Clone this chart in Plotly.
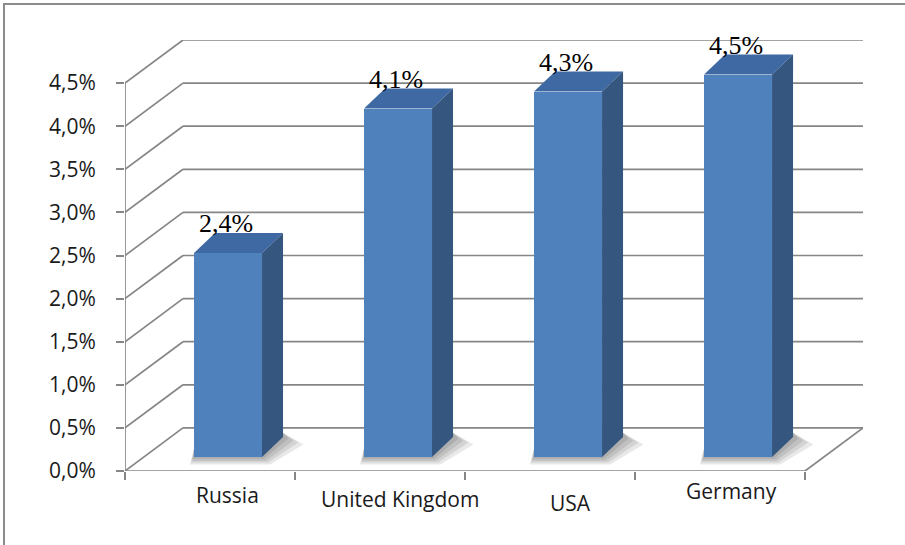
import plotly.graph_objects as go

# ---------------- data ----------------
categories = ["Russia", "United Kingdom", "USA", "Germany"]
values = [2.4, 4.1, 4.3, 4.5]
value_labels = ["2,4%", "4,1%", "4,3%", "4,5%"]
tick_values = [0.0, 0.5, 1.0, 1.5, 2.0, 2.5, 3.0, 3.5, 4.0, 4.5]
tick_labels = ["0,0%", "0,5%", "1,0%", "1,5%", "2,0%", "2,5%", "3,0%", "3,5%", "4,0%", "4,5%"]

# ---------------- geometry / style ----------------
W, H = 905, 545
ML, MR, MT, MB = 125, 42, 40, 74
X_RANGE = [-0.5, 3.841]
Y_RANGE = [0.0, 5.0]
Y2_RANGE = [-0.165, 4.906]
WALL_DX = 0.341
WALL_DY = 0.5
BAR_OFFSET = -0.094
BAR_WIDTH = 0.4
BAR_DX = 0.1235
BAR_DY = 0.235
GRID = "#868686"
FRONT = "#4f81bd"
TOP = "#3f69a3"
SIDE = "#35567f"
label_dx_px = [0, 3, 3, -6]
label_dy_px = [24, 28, 32, 20]

n = len(categories)
xs = list(range(n))
x_left = -0.5
x_right = n - 0.5

fig = go.Figure()

fig.add_trace(go.Bar(
    x=xs, y=values, yaxis="y2",
    offset=BAR_OFFSET, width=BAR_WIDTH,
    marker=dict(color=FRONT, line=dict(width=0)),
    hoverinfo="skip", showlegend=False,
))

shapes = []
line = dict(color=GRID, width=1.7)
# back wall gridlines and side-wall diagonals
for v in tick_values:
    shapes.append(dict(type="line", xref="x", yref="y", layer="below",
                       x0=x_left + WALL_DX, x1=x_right + WALL_DX,
                       y0=v + WALL_DY, y1=v + WALL_DY, line=line))
    shapes.append(dict(type="line", xref="x", yref="y", layer="below",
                       x0=x_left, x1=x_left + WALL_DX,
                       y0=v, y1=v + WALL_DY, line=line))
# front axis line
shapes.append(dict(type="line", xref="x", yref="y", layer="below",
                   x0=x_left, x1=x_left, y0=tick_values[0], y1=tick_values[-1], line=line))
# floor front edge and right edge
shapes.append(dict(type="line", xref="x", yref="y", layer="below",
                   x0=x_left, x1=x_right, y0=0, y1=0, line=line))
shapes.append(dict(type="line", xref="x", yref="y", layer="below",
                   x0=x_right, x1=x_right + WALL_DX, y0=0, y1=WALL_DY, line=line))

# bar shadows + 3D faces
for i, v in enumerate(values):
    x0 = xs[i] + BAR_OFFSET
    x1 = x0 + BAR_WIDTH
    for k in range(4):
        sx = 0.012 * (k + 1)
        sy = 0.022 * (k + 1)
        path = (f"M {x0 - sx * 0.5} {-sy} L {x1 + sx} {-sy} "
                f"L {x1 + BAR_DX + 2.5 * sx} {BAR_DY - sy} "
                f"L {x1 + BAR_DX} {BAR_DY + 0.05} L {x0} {0.1} Z")
        shapes.append(dict(type="path", xref="x", yref="y2", layer="below",
                           path=path, fillcolor="rgba(0,0,0,0.09)", line=dict(width=0)))
    top = (f"M {x0} {v} L {x1} {v} L {x1 + BAR_DX} {v + BAR_DY} "
           f"L {x0 + BAR_DX} {v + BAR_DY} Z")
    shapes.append(dict(type="path", xref="x", yref="y2", path=top,
                       fillcolor=TOP, line=dict(width=0)))
    side = (f"M {x1} {0} L {x1} {v} L {x1 + BAR_DX} {v + BAR_DY} "
            f"L {x1 + BAR_DX} {BAR_DY} Z")
    shapes.append(dict(type="path", xref="x", yref="y2", path=side,
                       fillcolor=SIDE, line=dict(width=0)))

# outer frame (top and left edges visible)
shapes.append(dict(type="rect", xref="paper", yref="paper",
                   x0=(4 - ML) / (W - ML - MR), x1=1.3,
                   y0=-0.3, y1=(H - MB - 4) / (H - MT - MB),
                   line=dict(color="#8c8c8c", width=2), layer="below"))

annotations = []
for i, v in enumerate(values):
    x0 = xs[i] + BAR_OFFSET
    annotations.append(dict(
        x=x0 + BAR_WIDTH / 2, y=v + BAR_DY, xref="x", yref="y2",
        text=value_labels[i], showarrow=False, yanchor="bottom", xanchor="center",
        yshift=-7, xshift=-2,
        font=dict(family="Liberation Serif", size=26, color="#000000"),
    ))
for i, c in enumerate(categories):
    annotations.append(dict(
        x=xs[i] + 0.1, y=0, xref="x", yref="y",
        text=c, showarrow=False, yanchor="middle", xanchor="center",
        xshift=label_dx_px[i], yshift=-label_dy_px[i],
        font=dict(family="Open Sans", size=21, color="#1a1a1a"),
    ))

fig.update_layout(
    width=W, height=H,
    margin=dict(l=ML, r=MR, t=MT, b=MB, pad=0),
    paper_bgcolor="white", plot_bgcolor="rgba(0,0,0,0)",
    xaxis=dict(range=X_RANGE, showgrid=False, zeroline=False, showline=False,
               tickvals=[x_left + k for k in range(n + 1)], ticks="outside",
               ticklen=8, tickwidth=1.7, tickcolor=GRID, showticklabels=False,
               fixedrange=True),
    yaxis=dict(range=Y_RANGE, showgrid=False, zeroline=False, showline=False,
               tickvals=tick_values, ticktext=tick_labels, ticks="outside",
               ticklen=8, tickwidth=1.7, tickcolor=GRID, ticklabelstandoff=16,
               tickfont=dict(family="Open Sans", size=21, color="#1a1a1a"),
               fixedrange=True),
    yaxis2=dict(range=Y2_RANGE, overlaying="y", visible=False, fixedrange=True),
    shapes=shapes, annotations=annotations,
    bargap=0, showlegend=False,
)

fig.write_html("out.html")
